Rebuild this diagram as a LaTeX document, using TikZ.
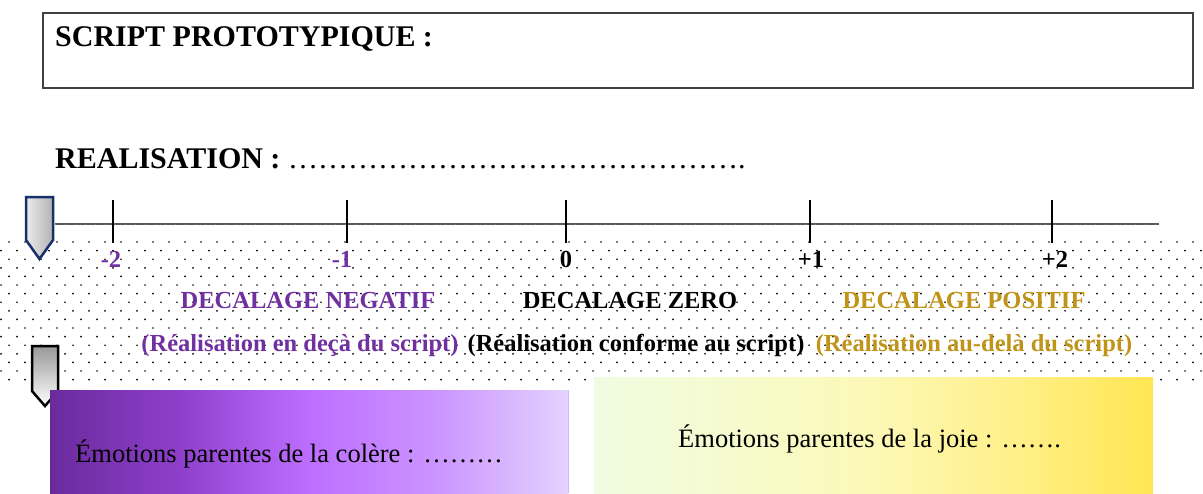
\documentclass[tikz,border=0pt]{standalone}
\usepackage{fontspec}
\setmainfont{Liberation Serif}
\definecolor{wpurple}{HTML}{7030A0}
\definecolor{wgold}{HTML}{C09418}
\definecolor{navy}{HTML}{17306B}
\definecolor{pa}{HTML}{6A2A9C}
\definecolor{pb}{HTML}{8E3FCB}
\definecolor{pc}{HTML}{BD6EFF}
\definecolor{pd}{HTML}{CC95FF}
\definecolor{pe}{HTML}{E4D2FF}
\definecolor{ya}{HTML}{F0FCE2}
\definecolor{yb}{HTML}{F6FBCE}
\definecolor{yc}{HTML}{FCF8B6}
\definecolor{yd}{HTML}{FFF08A}
\definecolor{ye}{HTML}{FFE652}
\pgfdeclarehorizontalshading{purpshade}{100bp}{color(0bp)=(pa); color(25bp)=(pa); color(37.5bp)=(pb); color(50bp)=(pc); color(62.5bp)=(pd); color(75bp)=(pe); color(100bp)=(pe)}
\pgfdeclarehorizontalshading{yellshade}{100bp}{color(0bp)=(ya); color(25bp)=(ya); color(37.5bp)=(yb); color(50bp)=(yc); color(62.5bp)=(yd); color(75bp)=(ye); color(100bp)=(ye)}
\tikzset{
  titlefont/.style={font=\fontsize{30}{36}\selectfont\bfseries, inner sep=0pt},
  scalefont/.style={font=\fontsize{24.5}{29}\selectfont\bfseries, inner sep=0pt, anchor=base},
  boxfont/.style={font=\fontsize{26.5}{32}\selectfont, inner sep=0pt, anchor=base west},
  tickline/.style={line width=1.3pt, black},
  dotfill/.style={fill=black},
}
\begin{document}
\begin{tikzpicture}[x=1pt,y=-1pt]
\useasboundingbox (0,0) rectangle (1203,493);
% dotted band
\foreach \r in {0,...,16}{
  \pgfmathsetmacro{\yy}{242+8.6*\r}
  \pgfmathsetmacro{\off}{mod(\r,2)==0 ? 9 : 1}
  \foreach \c in {0,...,75}{
    \fill[dotfill] ({\off+16*\c},\yy) circle (0.95pt);
  }
}
% top box
\draw[line width=2pt, black!75] (43,13) rectangle (1193,88);
\node[titlefont, anchor=base west] (script) at (55,46) {SCRIPT PROTOTYPIQUE :};
\node[titlefont, anchor=base west] (real) at (55,168) {REALISATION :\mdseries{} ……………………………………….};
% timeline
\coordinate (tl0) at (55,224);
\coordinate (tl1) at (1159,224);
\draw[line width=2pt, black!65] (tl0) -- (tl1);
\draw[line width=1pt, wpurple!70, dash pattern=on 1pt off 9pt] (tl0) -- (tl1);
\foreach \x in {113,347,566,810,1052}{
  \draw[tickline] (\x,200) -- (\x,243);
}
% scale labels
\node[scalefont, text=wpurple] (m2) at (111,267) {-2};
\node[scalefont, text=wpurple] (m1) at (342,267) {-1};
\node[scalefont] (z0) at (566,267) {0};
\node[scalefont] (p1) at (811,267) {+1};
\node[scalefont] (p2) at (1055,267) {+2};
\node[scalefont, text=wpurple] (dneg) at (308,308) {DECALAGE NEGATIF};
\node[scalefont] (dzero) at (630,308) {DECALAGE ZERO};
\node[scalefont, text=wgold] (dpos) at (964,308) {DECALAGE POSITIF};
\node[scalefont, text=wpurple] (rneg) at (300,351) {(Réalisation en deçà du script)};
\node[scalefont] (rzero) at (636,351) {(Réalisation conforme au script)};
\node[scalefont, text=wgold] (rpos) at (974,351) {(Réalisation au-delà du script)};
% markers
\shade[left color=gray!15, right color=gray!60, draw=navy, line width=2.5pt, line join=miter]
  (26,197) -- (53,197) -- (53,240) -- (39.5,259) -- (26,240) -- cycle;
\shade[top color=gray!80, bottom color=white, draw=black, line width=2.5pt, line join=miter]
  (32,346) -- (58,346) -- (58,391) -- (45,406) -- (32,391) -- cycle;
% coloured boxes
\shade[shading=purpshade] (50,390) rectangle (568,493);
\draw[line width=1pt, blue!25] (568,390) -- (568,493);
\shade[shading=yellshade] (594,377) rectangle (1153,493);
\node[boxfont] (colere) at (75,462) {Émotions parentes de la colère : ………};
\node[boxfont] (joie) at (678,447) {Émotions parentes de la joie : …….};
\end{tikzpicture}
\end{document}
